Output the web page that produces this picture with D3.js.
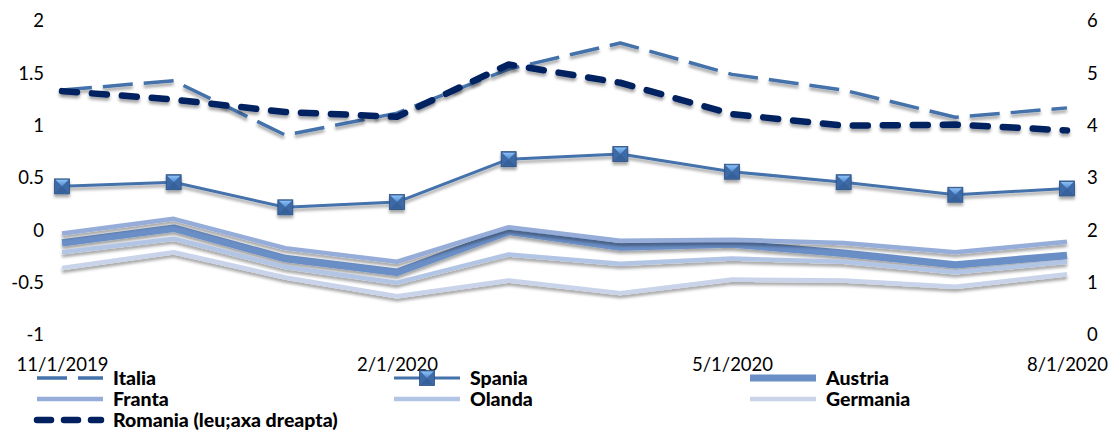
<!DOCTYPE html>
<html><head><meta charset="utf-8">
<script src="https://cdn.jsdelivr.net/npm/d3@7"></script>
<style>
html,body{margin:0;padding:0;background:#fff;}
svg{display:block;font-family:Lato,"Open Sans",sans-serif;}
</style></head>
<body><svg id="c" width="1111" height="432"></svg>
<script>
const categories = ["11/1/2019","12/1/2019","1/1/2020","2/1/2020","3/1/2020","4/1/2020","5/1/2020","6/1/2020","7/1/2020","8/1/2020"];
const xTickLabels = ["11/1/2019","2/1/2020","5/1/2020","8/1/2020"];
const leftTicks = [-1,-0.5,0,0.5,1,1.5,2];
const rightTicks = [0,1,2,3,4,5,6];
const italia   = [1.34, 1.43, 0.91, 1.12, 1.54, 1.79, 1.49, 1.34, 1.08, 1.17];
const spania   = [0.42, 0.46, 0.22, 0.27, 0.68, 0.73, 0.56, 0.46, 0.34, 0.40];
const austria  = [-0.12, 0.02, -0.27, -0.40, -0.01, -0.16, -0.13, -0.22, -0.33, -0.24];
const franta   = [-0.03, 0.11, -0.17, -0.30, 0.03, -0.10, -0.09, -0.12, -0.21, -0.11];
const olanda   = [-0.21, -0.08, -0.35, -0.50, -0.23, -0.32, -0.27, -0.30, -0.40, -0.30];
const germania = [-0.36, -0.21, -0.45, -0.63, -0.48, -0.60, -0.47, -0.48, -0.54, -0.42];
const romania  = [4.66, 4.50, 4.26, 4.17, 5.17, 4.82, 4.22, 4.00, 4.02, 3.91];

const series = [
  {name:"Italia", values:italia, axis:"L", color:"#4472AA", width:3.5, dash:"30,11", cap:"butt"},
  {name:"Spania", values:spania, axis:"L", color:"#4472AA", width:3, marker:true},
  {name:"Austria", values:austria, axis:"L", color:"#6A8EC6", width:7.5},
  {name:"Franta", values:franta, axis:"L", color:"#95ADD8", width:4.5},
  {name:"Olanda", values:olanda, axis:"L", color:"#B3C5E5", width:4.5},
  {name:"Germania", values:germania, axis:"L", color:"#C9D4EA", width:4.5},
  {name:"Romania (leu;axa dreapta)", values:romania, axis:"R", color:"#002060", width:6.5, dash:"15,15", cap:"round"}
];

const svg = d3.select("#c");
const defs = svg.append("defs");
const f = defs.append("filter").attr("id","sh").attr("x","-5%").attr("y","-50%").attr("width","110%").attr("height","200%");
f.append("feDropShadow").attr("dx",0).attr("dy",3).attr("stdDeviation",1.8).attr("flood-color","#000").attr("flood-opacity",0.35);

const grad = defs.append("linearGradient").attr("id","mk").attr("x1",0).attr("y1",0).attr("x2",0).attr("y2",1);
grad.append("stop").attr("offset","0%").attr("stop-color","#8DC0F5");
grad.append("stop").attr("offset","100%").attr("stop-color","#4F8AD0");

const x = d3.scalePoint().domain(categories).range([62,1067]);
const yL = d3.scaleLinear().domain([-1,2]).range([335,21]);
const yR = d3.scaleLinear().domain([0,6]).range([335,21]);

// axes
const axL = svg.append("g").attr("transform","translate(44,0)")
  .call(d3.axisLeft(yL).tickValues(leftTicks).tickSize(0).tickPadding(0).tickFormat(d=>String(d)));
const axR = svg.append("g").attr("transform","translate(1087,0)")
  .call(d3.axisRight(yR).tickValues(rightTicks).tickSize(0).tickPadding(0).tickFormat(d=>String(d)));
const axB = svg.append("g").attr("transform","translate(0,358)")
  .call(d3.axisBottom(x).tickValues(xTickLabels).tickSize(0).tickPadding(0));
[axL,axR,axB].forEach(a=>{
  a.select(".domain").remove();
  a.selectAll("text").attr("font-family","Lato,'Open Sans',sans-serif").attr("font-size",18.5).attr("fill","#000");
});

// lines
series.forEach(s=>{
  const y = s.axis==="L"? yL : yR;
  const line = d3.line().x((d,i)=>x(categories[i])).y(d=>y(d));
  const g = svg.append("g").attr("filter","url(#sh)");
  g.append("path").datum(s.values).attr("d",line)
    .attr("fill","none").attr("stroke",s.color).attr("stroke-width",s.width)
    .attr("stroke-dasharray",s.dash||null).attr("stroke-linecap",s.cap||"butt").attr("stroke-linejoin","round");
  if(s.marker){
    const m = g.selectAll("g.m").data(s.values).join("g").attr("class","m")
      .attr("transform",(d,i)=>`translate(${x(categories[i])},${y(d)})`);
    drawMarker(m);
  }
});

function drawMarker(sel){
  const h=7.5;
  sel.append("rect").attr("x",-h).attr("y",-h).attr("width",2*h).attr("height",2*h)
    .attr("fill","#3E6BA6").attr("stroke","#2B4F80").attr("stroke-width",0.8);
  sel.append("path").attr("d",`M${-h+1},${-h+1}L${h-1},${-h+1}L0,0Z`).attr("fill","url(#mk)");
  sel.append("path").attr("d",`M${-h+1},${h-1}L${h-1},${h-1}L0,0Z`).attr("fill","#34609A");
}

// legend
const cols = [37, 394, 750];
const rows = [378, 399, 420];
const lg = svg.append("g");
series.forEach((s,i)=>{
  const col = cols[i%3], row = rows[Math.floor(i/3)];
  const g = lg.append("g").attr("transform",`translate(${col},${row})`);
  g.append("line").attr("x1",0).attr("x2",s.cap==="round"?64:66).attr("y1",0).attr("y2",0)
    .attr("stroke",s.color).attr("stroke-width",Math.min(s.width,7))
    .attr("stroke-dasharray",s.dash? (s.cap==="round"?"14,13":"30,11"):null)
    .attr("stroke-linecap",s.cap||"butt");
  if(s.marker){ const m=g.append("g").attr("transform","translate(33,0)"); drawMarker(m); }
  g.append("text").attr("x",76).attr("y",0).attr("dy","0.36em")
    .attr("font-size",19.5).attr("font-weight","900").attr("fill","#000").text(s.name);
});
</script></body></html>
